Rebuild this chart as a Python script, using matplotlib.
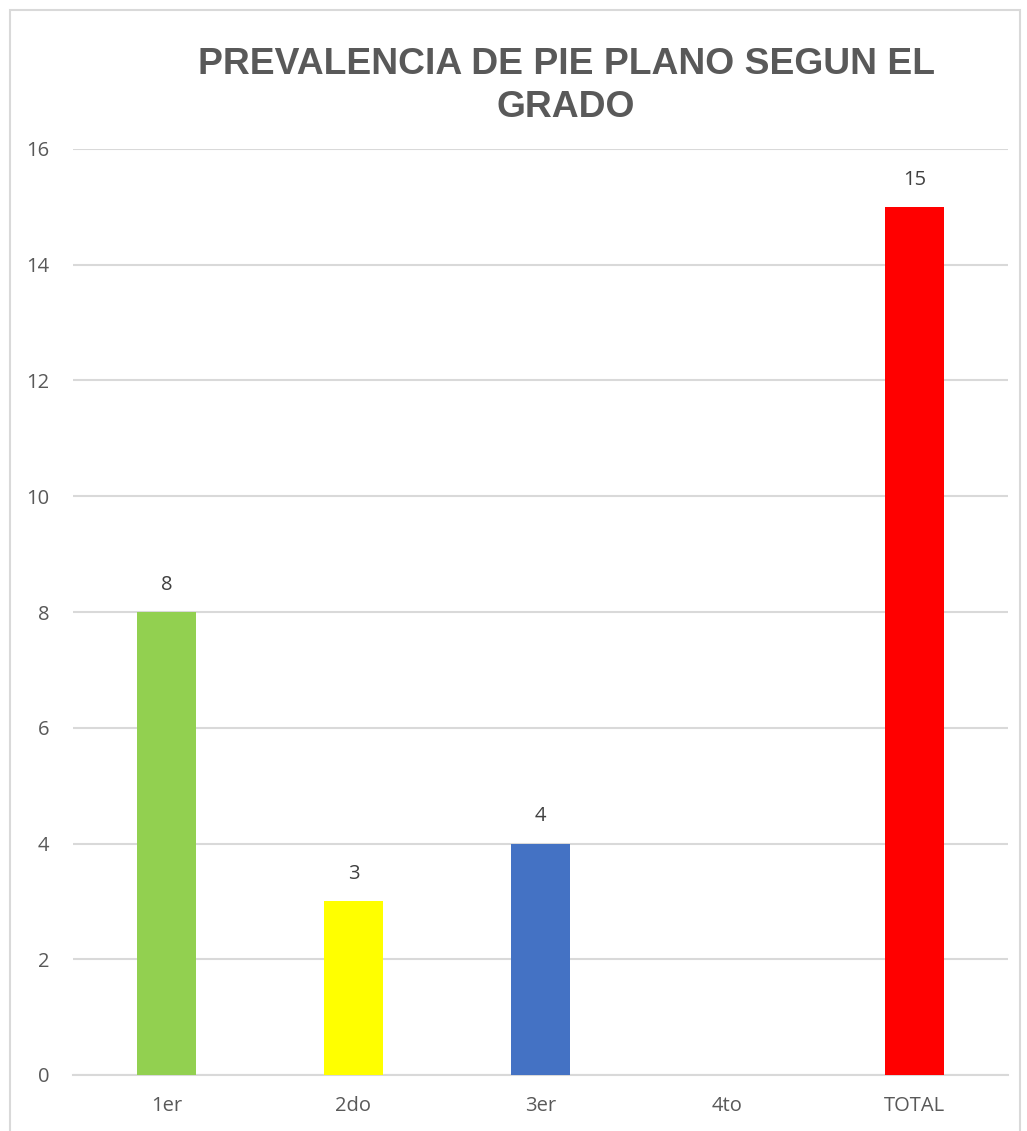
import numpy as np
import matplotlib.pyplot as plt
from matplotlib.patches import Rectangle

# Datos
grados = ['1er', '2do', '3er', '4to', 'TOTAL']
casos = [8, 3, 4, np.nan, 15]
colores = ['#92D050', '#FFFF00', '#4472C4', '#FFFFFF', '#FF0000']
marcas_y = [0, 2, 4, 6, 8, 10, 12, 14, 16]

W, H = 1027, 1131
fig = plt.figure(figsize=(W / 100, H / 100), dpi=100)

# marco del grafico
fig.patches.append(Rectangle((10 / W, -0.05), 1010 / W, 1 - 10 / H + 0.05,
                             transform=fig.transFigure, fill=False,
                             edgecolor='#D9D9D9', linewidth=1.5))

ax = fig.add_axes([73 / W, (H - 1075) / H, (1008 - 73) / W, (1075 - 149) / H])

x = np.arange(len(grados))
barras = ax.bar(x, casos, width=0.315, color=colores, zorder=3)

for xi, v in zip(x, casos):
    if not np.isnan(v):
        ax.text(xi, v + 0.3, f'{v:g}', ha='center', va='bottom',
                fontsize=14.5, color='#404040', family='Open Sans')

ax.set_xlim(-0.5, len(grados) - 0.5)
ax.set_ylim(0, 16)
ax.set_yticks(marcas_y)
ax.set_xticks(x)
ax.set_xticklabels(grados)
ax.grid(axis='y', color='#D9D9D9', linewidth=1.5, zorder=0)
for lado in ['top', 'right', 'left']:
    ax.spines[lado].set_visible(False)
ax.spines['bottom'].set_color('#D9D9D9')
ax.spines['bottom'].set_linewidth(1.5)
ax.tick_params(length=0, labelsize=14.5, labelcolor='#595959')
ax.tick_params(axis='y', pad=17)
ax.tick_params(axis='x', pad=15)
for t in ax.get_xticklabels() + ax.get_yticklabels():
    t.set_family('Open Sans')

fig.text(566 / W, 1 - 86 / H, 'PREVALENCIA DE PIE PLANO SEGUN EL\nGRADO',
         ha='center', va='center', fontsize=26.8, fontweight='bold',
         color='#595959', family='Liberation Sans', linespacing=1.28)

fig.savefig('out.png', dpi=100)
